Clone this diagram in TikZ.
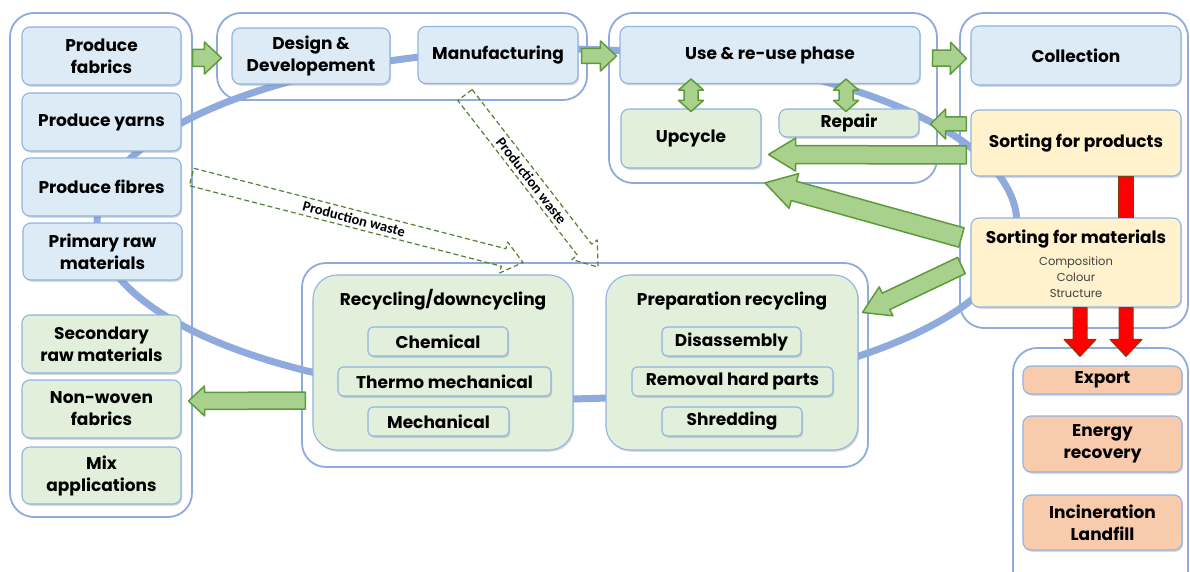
\documentclass[tikz,border=0pt]{standalone}
\usepackage{fontspec}
\setmainfont{Poppins}
\newfontfamily\wastefont{Carlito}
\usetikzlibrary{calc,shadows}

\definecolor{frameblue}{HTML}{8FAADC}
\definecolor{boxline}{HTML}{8EB4E3}
\definecolor{boxblue}{HTML}{DDEBF7}
\definecolor{boxgreen}{HTML}{E2EFDA}
\definecolor{boxyellow}{HTML}{FFF2CC}
\definecolor{boxorange}{HTML}{F8CBAD}
\definecolor{arrowgreen}{HTML}{A9D18E}
\definecolor{arrowedge}{HTML}{5E9A3B}
\definecolor{arrowred}{HTML}{FF0000}
\definecolor{arrowbrown}{HTML}{843C0C}
\definecolor{wasteline}{HTML}{548235}
\definecolor{subgray}{HTML}{404040}

% block arrow: [style]{start}{end}{half shaft}{half head}{head length}
\newcommand\fatarrow[6][]{%
  \path (#2) coordinate (fa-s) (#3) coordinate (fa-e);
  \path ($(fa-e)!#6!(fa-s)$) coordinate (fa-h);
  \draw[#1] ($(fa-s)!#4!90:(fa-e)$) -- ($(fa-h)!#4!90:(fa-e)$) -- ($(fa-h)!#5!90:(fa-e)$)
    -- (fa-e) -- ($(fa-h)!#5!-90:(fa-e)$) -- ($(fa-h)!#4!-90:(fa-e)$) -- ($(fa-s)!#4!-90:(fa-e)$) -- cycle;
}
% double block arrow, same arguments
\newcommand\twinarrow[6][]{%
  \path (#2) coordinate (fa-s) (#3) coordinate (fa-e);
  \path ($(fa-s)!#6!(fa-e)$) coordinate (fa-h) ($(fa-e)!#6!(fa-s)$) coordinate (fa-k);
  \draw[#1] (fa-s) -- ($(fa-h)!#5!90:(fa-e)$) -- ($(fa-h)!#4!90:(fa-e)$) -- ($(fa-k)!#4!90:(fa-e)$)
    -- ($(fa-k)!#5!90:(fa-e)$) -- (fa-e) -- ($(fa-k)!#5!-90:(fa-e)$) -- ($(fa-k)!#4!-90:(fa-e)$)
    -- ($(fa-h)!#4!-90:(fa-e)$) -- ($(fa-h)!#5!-90:(fa-e)$) -- cycle;
}

\begin{document}
\begin{tikzpicture}[x=1pt, y=-1pt, line join=round,
  frame/.style={draw=frameblue, line width=1.8pt, fill=white, rounded corners=24pt},
  stage/.style={draw=boxline, line width=1.1pt, rounded corners=8pt, align=center, inner sep=0pt,
    font=\bfseries\fontsize{17}{22}\selectfont,
    drop shadow={opacity=.3, shadow xshift=1.2pt, shadow yshift=-1.8pt}},
  bluestage/.style={stage, fill=boxblue},
  greenstage/.style={stage, fill=boxgreen},
  yellowstage/.style={stage, fill=boxyellow},
  orangestage/.style={stage, fill=boxorange},
  method/.style={greenstage, rounded corners=5pt, minimum height=29},
  bigstage/.style={greenstage, rounded corners=24pt, minimum width=#1, minimum height=175},
  title/.style={font=\bfseries\fontsize{17}{22}\selectfont, inner sep=0pt},
  loopline/.style={draw=frameblue, line width=7pt},
  greenarrow/.style={fill=arrowgreen, draw=arrowedge, line width=1.5pt},
  redarrow/.style={fill=arrowred, draw=arrowbrown, line width=1pt},
  wastearrow/.style={draw=wasteline, line width=1.2pt, dash pattern=on 5pt off 3pt},
  wastelabel/.style={font=\wastefont\bfseries\fontsize{14.5}{16}\selectfont, inner sep=1pt}]
  \useasboundingbox (0,0) rectangle (1190,572);

  % frames
  \node[frame, minimum width=182, minimum height=504] (leftframe) at (101,265) {};
  \node[frame, minimum width=370, minimum height=87] (designframe) at (402,56.5) {};
  \node[frame, minimum width=328, minimum height=170] (useframe) at (773,98) {};
  \node[frame, minimum width=228, minimum height=315] (collframe) at (1074,170.5) {};
  \node[frame, minimum width=566, minimum height=204] (recframe) at (585,365) {};
  \node[frame, minimum width=175, minimum height=250] (endframe) at (1100.5,473) {};

  % the loop
  \draw[loopline] (557,224) ellipse [x radius=460pt, y radius=175pt];

  % left column
  \node[bluestage, minimum width=159, minimum height=58] (fabrics) at (101.5,56) {Produce\\fabrics};
  \node[bluestage, minimum width=159, minimum height=58] (yarns) at (101.5,122) {Produce yarns};
  \node[bluestage, minimum width=159, minimum height=58] (fibres) at (101.5,187) {Produce fibres};
  \node[bluestage, minimum width=159, minimum height=57] (primary) at (102.5,251.5) {Primary raw\\materials};
  \node[greenstage, minimum width=159, minimum height=58] (secondary) at (101.5,344) {Secondary\\raw materials};
  \node[greenstage, minimum width=159, minimum height=58] (nonwoven) at (101.5,409) {Non-woven\\fabrics};
  \node[greenstage, minimum width=159, minimum height=57] (mix) at (101.5,475.5) {Mix\\applications};

  % top row
  \node[bluestage, minimum width=158, minimum height=56] (design) at (311,56) {Design \&\\Developement};
  \node[bluestage, minimum width=160, minimum height=57] (manuf) at (498,55) {Manufacturing};
  \node[bluestage, minimum width=300, minimum height=57] (use) at (770,55) {Use \& re-use phase};
  \node[greenstage, minimum width=140, minimum height=59] (upcycle) at (691,138.5) {Upcycle};
  \node[greenstage, minimum width=140, minimum height=28] (repair) at (849,123) {Repair};

  % collection and sorting
  \node[bluestage, minimum width=210, minimum height=59] (collection) at (1076,55.5) {Collection};
  \node[yellowstage, minimum width=210, minimum height=66] (sortprod) at (1076,143) {Sorting for products};
  \node[yellowstage, minimum width=210, minimum height=89] (sortmat) at (1076,262.5) {};
  \node[title] (sortmattitle) at ($(sortmat.north)+(0,22)$) {Sorting for materials};
  \node[align=center, inner sep=0pt, text=subgray, font=\fontsize{11.5}{16}\selectfont]
    (sortmatsub) at ($(sortmat.north)+(0,60)$) {Composition\\Colour\\Structure};

  % recycling
  \node[bigstage=260] (recyc) at (443,362.5) {};
  \node[title] (recyctitle) at ($(recyc.north)+(0,25)$) {Recycling/downcycling};
  \node[method, minimum width=140] (chemical) at (438,341.5) {Chemical};
  \node[method, minimum width=213] (thermo) at (444.5,381.5) {Thermo mechanical};
  \node[method, minimum width=141] (mechanical) at (438.5,421.5) {Mechanical};
  \node[bigstage=252] (prep) at (732,362.5) {};
  \node[title] (preptitle) at ($(prep.north)+(0,27)$) {Preparation recycling};
  \node[method, minimum width=139] (disassembly) at (731.5,341.5) {Disassembly};
  \node[method, minimum width=201] (removal) at (732.5,381.5) {Removal hard parts};
  \node[method, minimum width=140] (shredding) at (732,421.5) {Shredding};

  % end of life
  \node[orangestage, minimum width=159, minimum height=28] (export) at (1102.5,380) {Export};
  \node[orangestage, minimum width=159, minimum height=56] (energy) at (1102.5,444) {Energy\\recovery};
  \node[orangestage, minimum width=159, minimum height=55] (incineration) at (1102.5,522.5) {Incineration\\Landfill};

  % green flows
  \fatarrow[greenarrow]{$(fabrics.east)+(11,2)$}{$(design.west)+(-10,2)$}{8.5pt}{16pt}{17pt}
  \fatarrow[greenarrow]{$(manuf.east)+(3,1)$}{$(use.west)+(-3,1)$}{7.5pt}{15pt}{16pt}
  \fatarrow[greenarrow]{$(use.east)+(12,3)$}{$(collection.west)+(-4,3)$}{8pt}{16pt}{16pt}
  \fatarrow[greenarrow]{$(sortprod.west)+(-4,-19)$}{$(repair.east)+(11,1)$}{7pt}{15pt}{15pt}
  \fatarrow[greenarrow]{$(sortprod.west)+(-4,12)$}{$(upcycle.east)+(7,16)$}{9pt}{16.5pt}{27pt}
  \fatarrow[greenarrow]{$(sortmat.west)+(-9,-25)$}{$(useframe.south)+(-8,-1)$}{10pt}{18pt}{30pt}
  \fatarrow[greenarrow]{$(sortmat.west)+(-9,3)$}{$(prep.east)+(4,-50)$}{9pt}{16pt}{26pt}
  \fatarrow[greenarrow]{$(recyc.west)+(-7,38)$}{$(nonwoven.east)+(7,-8)$}{8.5pt}{15pt}{16pt}
  \twinarrow[greenarrow]{$(upcycle.north |- use.south)+(0,-5)$}{$(upcycle.north)+(0,3)$}{7pt}{12.5pt}{11pt}
  \twinarrow[greenarrow]{$(repair.north |- use.south)+(-3,-5)$}{$(repair.north)+(-3,3)$}{7pt}{12.5pt}{11pt}

  % red flows
  \draw[redarrow] ($(sortprod.south)+(42,0)$) rectangle ($(sortmat.north)+(57,0)$);
  \fatarrow[redarrow]{$(sortmat.south)+(4,0)$}{$(export.north)+(-22.5,-9)$}{7pt}{16pt}{17pt}
  \fatarrow[redarrow]{$(sortmat.south)+(50,0)$}{$(export.north)+(23.5,-9)$}{7pt}{16pt}{17pt}

  % production waste
  \fatarrow[wastearrow]{$(fibres.east)+(10,-10)$}{$(recyc.north)+(80,-12)$}{9pt}{16pt}{20pt}
  \path (fa-s) -- node[sloped, wastelabel, pos=.49] (wastefibres) {Production waste} (fa-e);
  \fatarrow[wastearrow]{$(manuf.south)+(-33,11)$}{$(recframe.north)+(13,5)$}{9pt}{16pt}{22pt}
  \path (fa-s) -- node[sloped, wastelabel] (wastemanuf) {Production waste} (fa-e);
\end{tikzpicture}
\end{document}
